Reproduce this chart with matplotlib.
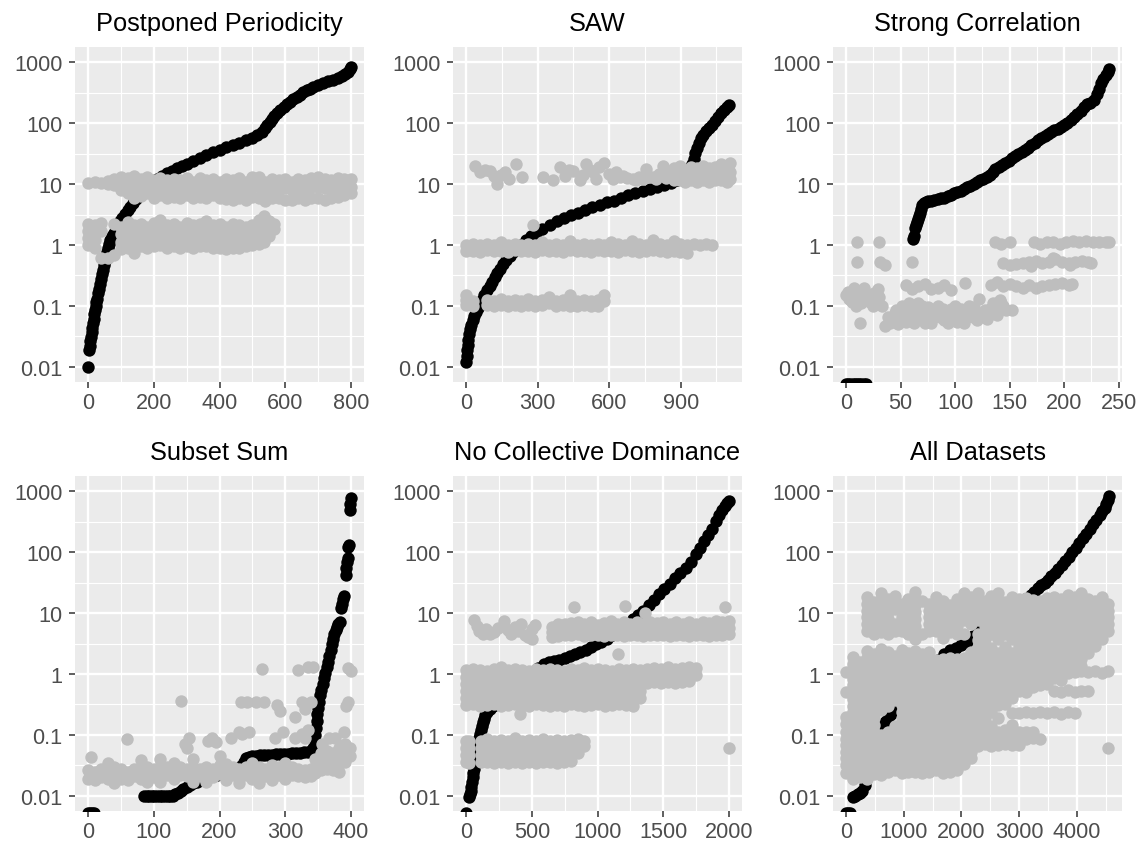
import matplotlib
matplotlib.use("Agg")
import matplotlib.pyplot as plt
from matplotlib.ticker import FixedLocator, FixedFormatter, NullFormatter

plt.rcParams["font.family"] = ["Liberation Sans", "DejaVu Sans"]

# ---------------- Postponed Periodicity ----------------
pp_black_x = [0, 3, 5, 7, 9, 11, 13, 15, 17, 19, 21, 23, 25, 27, 30, 33, 36, 39, 42, 45,
              48, 51, 54, 57, 60, 64, 68, 73, 78, 84, 90, 97, 104, 112, 120, 128, 137, 146, 156, 167,
              180, 195, 210, 225, 240, 255, 270, 285, 300, 320, 340, 360, 380, 400, 420, 440, 460, 480, 500, 515,
              528, 538, 546, 553, 560, 567, 575, 585, 595, 605, 615, 625, 635, 645, 655, 665, 675, 685, 700, 715,
              730, 745, 760, 772, 782, 790, 796, 800]
pp_black_y = [0.01, 0.019, 0.022, 0.026, 0.031, 0.037, 0.044, 0.052, 0.062, 0.073,
              0.086, 0.1, 0.115, 0.13, 0.16, 0.19, 0.23, 0.28, 0.33, 0.39,
              0.46, 0.55, 0.65, 0.77, 0.9, 1.05, 1.2, 1.4, 1.6, 1.85,
              2.1, 2.45, 2.8, 3.2, 3.7, 4.2, 4.8, 5.6, 6.4, 7.4,
              8.8, 10.5, 12, 13.5, 15, 16.5, 18, 19.5, 21, 24,
              27, 30, 33, 36, 40, 44, 48, 53, 58, 64,
              72, 82, 93, 105, 118, 132, 148, 165, 185, 205,
              225, 245, 270, 295, 320, 345, 370, 395, 425, 455,
              485, 515, 550, 590, 640, 700, 760, 830]
pp_grey_hi = [(0, [10.5]), (20, [11]), (40, [10.5]), (60, [11.2, 10]), (80, [12, 9.8]),
              (100, [13, 10.5, 8]), (120, [12.5, 9.5, 7]), (140, [13.5, 10, 7, 5.8]), (160, [12, 9, 6.3]),
              (180, [13, 9.5, 7]), (200, [11.5, 8.5, 6]), (220, [12.5, 9, 6.5]), (240, [11.5, 8.3, 6]),
              (260, [12, 8.5, 6.2]), (280, [11.5, 8.5, 6]), (300, [12.5, 9, 6.5]), (320, [11, 8, 6]),
              (340, [12.5, 9, 6.2]), (360, [11.5, 8.5, 6]), (380, [12, 9, 6.5]), (400, [11, 8, 5.8]),
              (420, [12, 8.5, 5.6]), (440, [11.5, 8, 5.5]), (460, [12.5, 9, 6]), (480, [11, 8, 5.5]),
              (500, [13, 9, 6.2]), (520, [13, 9, 6]), (540, [11, 7.8, 5.2]), (560, [12, 8.5, 6]),
              (580, [11.5, 8, 5.8]), (600, [12, 8.5, 5.5]), (620, [11, 8, 5.5]), (640, [12, 8.5, 5.8]),
              (660, [11.5, 8, 5.5]), (680, [12.5, 9, 6]), (700, [13, 9, 6]), (720, [12, 8.5, 5.5]),
              (740, [11.5, 8, 5.8]), (760, [12.5, 9, 6.2]), (780, [12, 8.5, 6.5]), (800, [12, 9, 7])]
pp_grey_lo = [(0, [2.2, 1.7, 1.3, 1.0]), (20, [2.1, 1.6, 1.2, 0.9]), (40, [2.3, 1.7, 0.6]),
              (60, [0.62]), (80, [2.2, 0.68]), (100, [2.0, 1.5, 1.1, 0.85]),
              (120, [2.4, 1.7, 1.25, 0.9]), (140, [2.1, 1.5, 1.1, 0.75]), (160, [2.2, 1.6, 1.2, 0.95]),
              (180, [2.0, 1.5, 1.1, 0.9]), (200, [2.3, 1.7, 1.25, 0.95]), (220, [2.6, 1.8, 1.3, 1.0]),
              (240, [2.1, 1.5, 1.1, 0.9]), (260, [2.2, 1.6, 1.2, 0.95]), (280, [2.0, 1.5, 1.1, 0.9]),
              (300, [2.3, 1.6, 1.2, 0.95]), (320, [2.1, 1.5, 1.1, 0.9]), (340, [2.2, 1.6, 1.2, 0.95]),
              (360, [2.5, 1.7, 1.25, 0.95]), (380, [2.1, 1.5, 1.1, 0.9]), (400, [2.2, 1.6, 1.2, 0.9]),
              (420, [2.0, 1.5, 1.1, 0.85]), (440, [2.2, 1.6, 1.2, 0.9]), (460, [2.1, 1.5, 1.1, 0.9]),
              (480, [2.0, 1.5, 1.15, 0.95]), (500, [2.1, 1.6, 1.2, 1.0]), (520, [2.6, 1.9, 1.4, 1.05]),
              (535, [3.0, 2.2, 1.6, 1.1]), (550, [2.5, 1.8, 1.4]), (565, [2.2, 1.8])]

# ---------------- SAW ----------------
saw_black_x = [0, 2, 4, 6, 9, 12, 16, 21, 27, 34, 42, 50, 58, 67, 77, 88, 98, 108, 119, 130,
               142, 155, 168, 182, 197, 213, 230, 250, 272, 295, 320, 350, 380, 410, 440, 470, 500, 530, 560, 590,
               620, 650, 680, 710, 740, 770, 800, 830, 860, 885, 905, 920, 932, 940, 947, 954, 961, 968, 976, 985,
               995, 1006, 1018, 1030, 1043, 1056, 1069, 1082, 1095, 1102]
saw_black_y = [0.012, 0.015, 0.019, 0.023, 0.028, 0.034, 0.041, 0.049, 0.058, 0.068,
               0.08, 0.092, 0.105, 0.125, 0.15, 0.18, 0.215, 0.25, 0.3, 0.35,
               0.41, 0.48, 0.56, 0.65, 0.76, 0.88, 1.0, 1.2, 1.4, 1.6,
               1.85, 2.15, 2.45, 2.75, 3.05, 3.4, 3.8, 4.2, 4.6, 5.0,
               5.3, 5.9, 6.5, 7.2, 7.8, 8.4, 9.0, 9.7, 10.5, 11.5,
               12.6, 14, 15.5, 17, 21, 26, 32, 39, 47, 56,
               65, 74, 83, 94, 108, 125, 145, 165, 185, 200]
saw_grey_pts_x = [38, 58, 80, 100, 115, 128, 145, 163, 180, 211, 235, 323, 364, 392, 413, 430, 448, 476, 490, 504,
                  520, 531, 545, 559, 580, 601, 615, 629, 645, 657, 675, 698, 712, 726, 740, 754, 768, 782, 796, 810,
                  824, 838, 852, 281, 955, 980, 1005, 1030]
saw_grey_pts_y = [20, 15.7, 17, 16.6, 13.5, 10, 14, 15.7, 12, 21, 13, 13, 11.5, 19, 13.6, 17, 16.6, 11.5, 14, 21,
                  17, 15.7, 12, 19, 22, 14.5, 12, 15.7, 13, 13.6, 12.5, 12.3, 11.5, 13, 12, 17.4, 13, 13, 12, 14.5,
                  20, 12.5, 16, 2.1, 1.05, 1.0, 1.05, 1.0]
saw_grey_hi = [(870, [18, 14, 11.5]), (895, [20, 15, 11.5]), (920, [17, 13.5, 11]), (945, [19, 14.5, 11.5]),
               (970, [18, 14, 11]), (995, [20, 15, 11.5]), (1020, [18, 14, 11]), (1045, [19, 14.5, 11.5]),
               (1070, [21, 15, 11.5]), (1095, [19, 14, 11]), (1105, [22, 16, 12])]
saw_grey_mid = [(0, [1.0, 0.8]), (29, [1.05, 0.8]), (58, [1.0, 0.78]), (87, [1.05, 0.82]), (116, [1.0, 0.8]),
                (145, [1.1, 0.8]), (174, [1.0, 0.78]), (203, [1.05, 0.82]), (232, [1.0, 0.8]), (261, [1.05, 0.8]),
                (290, [1.0, 0.78]), (319, [1.1, 0.82]), (348, [1.0, 0.8]), (377, [1.05, 0.8]), (406, [1.0, 0.78]),
                (435, [1.15, 0.82]), (464, [1.0, 0.8]), (493, [1.05, 0.8]), (522, [1.0, 0.78]), (551, [1.05, 0.82]),
                (580, [1.0, 0.8]), (609, [1.1, 0.8]), (638, [1.05, 0.78]), (667, [1.0, 0.82]), (696, [1.15, 0.8]),
                (725, [1.05, 0.78]), (754, [1.0, 0.8]), (783, [1.2, 0.82]), (812, [1.05, 0.8]), (841, [1.0, 0.78]),
                (870, [1.15, 0.8]), (899, [1.05, 0.78]), (928, [1.0, 0.75])]
saw_grey_lo = [(0, [0.15, 0.125, 0.105]), (29, [0.12, 0.1]), (87, [0.125, 0.105]), (116, [0.12, 0.1]),
               (145, [0.13, 0.105]), (174, [0.12, 0.1]), (203, [0.125, 0.105]), (232, [0.12, 0.1]),
               (261, [0.13, 0.105]), (290, [0.12, 0.1]), (319, [0.125, 0.105]), (348, [0.14, 0.11]),
               (377, [0.12, 0.1]), (406, [0.125, 0.105]), (435, [0.15, 0.12, 0.1]), (464, [0.12, 0.1]),
               (493, [0.125, 0.105]), (522, [0.12, 0.1]), (551, [0.125, 0.1]), (580, [0.15, 0.12])]

# ---------------- Strong Correlation ----------------
sc_black_x = [0, 2, 4, 6, 8, 10, 12, 14, 16, 18,
              61, 62, 63, 64, 65, 66, 67, 68, 69, 70,
              71, 73, 75, 78, 81, 84, 87, 90, 93, 96, 99, 102, 105, 108, 111, 114, 117, 120, 123, 126,
              129, 132, 135, 137, 140, 143, 146, 149, 152, 155, 158, 161, 164, 167, 170, 173, 176, 179, 182, 185,
              188, 191, 194, 197, 200, 203, 206, 209, 212, 215, 218, 221, 224, 227, 230, 232, 234, 236, 238, 240, 241]
sc_black_y = [0.0052, 0.0052, 0.0052, 0.0052, 0.0052, 0.0052, 0.0052, 0.0052, 0.0052, 0.0052,
              1.25, 1.4, 1.9, 2.1, 2.4, 2.7, 3.0, 3.4, 3.9, 4.5,
              4.8, 5.0, 5.2, 5.3, 5.5, 5.6, 5.8, 6.0, 6.3, 6.6, 7.0, 7.4, 7.8, 8.3, 8.8, 9.4, 10, 10.7, 11.5, 12.3,
              13.2, 14, 15.5, 17.5, 19, 20.5, 22, 24, 26.5, 29, 31, 33, 36, 39, 43, 48, 53, 57, 61, 66,
              71, 76, 81, 87, 94, 102, 112, 125, 140, 160, 185, 205, 215, 240, 300, 360, 450, 540, 620, 700, 780]
sc_grey_x = [10, 30, 10, 31, 36, 60,
             0, 3, 7, 5, 12, 16, 22, 28, 29, 13, 18, 25, 30, 2, 9, 14, 20, 24, 26, 9, 33,
             40, 46, 51, 58, 60, 69, 72, 81, 87, 93, 99, 105, 111, 117, 122, 125, 129, 135, 141, 147,
             36, 43, 55, 62, 66, 75, 78, 84, 90, 96, 102, 108, 114, 120, 132, 138, 144, 152, 140,
             38, 45, 48, 53, 57, 64, 68, 74, 80, 86, 92, 98, 104, 110, 116, 121, 127, 131, 136, 142,
             60, 50, 70, 89, 100, 113,
             55, 60, 66, 72, 78, 84, 90, 96, 109,
             133, 138, 144, 150, 156, 162, 168, 174, 180, 186, 192, 198, 204, 207,
             144, 150, 156, 162, 168, 174, 180, 186, 192, 198, 204, 210, 216, 222, 225, 170, 190, 205,
             137, 142, 150, 172, 178, 184, 190, 196, 202, 208, 214, 220, 226, 232, 238, 241]
sc_grey_y = [1.1, 1.1, 0.52, 0.52, 0.47, 0.52,
             0.15, 0.13, 0.2, 0.115, 0.13, 0.2, 0.115, 0.11, 0.19, 0.052, 0.13, 0.1, 0.14, 0.17, 0.16, 0.11, 0.14,
             0.13, 0.16, 0.1, 0.1,
             0.052, 0.086, 0.1, 0.11, 0.07, 0.086, 0.052, 0.065, 0.08, 0.052, 0.075, 0.09, 0.065, 0.095, 0.13,
             0.075, 0.062, 0.11, 0.125, 0.086,
             0.046, 0.058, 0.055, 0.052, 0.11, 0.097, 0.052, 0.1, 0.058, 0.09, 0.055, 0.052, 0.08, 0.058, 0.09,
             0.07, 0.1, 0.085, 0.088,
             0.065, 0.075, 0.05, 0.065, 0.085, 0.065, 0.06, 0.075, 0.08, 0.065, 0.07, 0.06, 0.07, 0.08, 0.065,
             0.072, 0.085, 0.07, 0.095, 0.11,
             0.09, 0.085, 0.1, 0.09, 0.1, 0.1,
             0.22, 0.19, 0.21, 0.23, 0.19, 0.2, 0.22, 0.18, 0.24,
             0.22, 0.25, 0.21, 0.23, 0.21, 0.2, 0.22, 0.2, 0.21, 0.22, 0.23, 0.24, 0.22, 0.23,
             0.5, 0.47, 0.48, 0.5, 0.52, 0.55, 0.5, 0.53, 0.58, 0.52, 0.5, 0.52, 0.55, 0.53, 0.5, 0.45, 0.6, 0.46,
             1.1, 1.05, 1.1, 1.1, 1.05, 1.1, 1.1, 1.05, 1.1, 1.15, 1.1, 1.15, 1.1, 1.1, 1.12, 1.1]

# ---------------- Subset Sum ----------------
ss_black_x = [0, 3, 6, 9, 85, 89, 93, 97, 101, 105, 109, 113, 117, 121, 125, 129,
              133, 137, 141, 145, 150, 155, 160, 166, 172, 178, 184, 190, 196, 202, 208, 214, 220, 226, 232, 237,
              241, 245, 250, 256, 262, 268, 274, 280, 286, 292, 298, 304, 310, 316, 322, 328, 334, 340,
              343, 345, 346, 347, 348, 349, 350, 351, 353, 355, 357, 359, 361, 363, 365, 367, 369, 371, 373, 375,
              377, 379, 381, 383, 385, 386, 388, 390, 392, 393, 394, 395, 396, 397, 398, 399, 400]
ss_black_y = [0.0052, 0.0052, 0.0052, 0.0052, 0.01, 0.01, 0.01, 0.01, 0.01, 0.01, 0.01, 0.01, 0.01, 0.01, 0.01, 0.01,
              0.0105, 0.011, 0.012, 0.013, 0.014, 0.015, 0.016, 0.017, 0.018, 0.019, 0.02, 0.021, 0.022, 0.023,
              0.024, 0.025, 0.026, 0.028, 0.031, 0.036,
              0.041, 0.044, 0.045, 0.045, 0.046, 0.046, 0.047, 0.047, 0.048, 0.048, 0.049, 0.049, 0.05, 0.05,
              0.051, 0.052, 0.053, 0.055,
              0.06, 0.08, 0.1, 0.13, 0.17, 0.22, 0.28, 0.35, 0.45, 0.55, 0.68, 0.85, 1.05, 1.3, 1.6, 2.0, 2.5,
              3.1, 3.8, 4.5,
              5.2, 5.9, 6.5, 7.2, 12, 14, 17, 19, 42, 55, 70, 80, 120, 130, 500, 620, 760]
ss_grey_band = [(0, [0.026, 0.019]), (10, [0.025, 0.018]), (20, [0.027, 0.02]), (30, [0.035, 0.025, 0.019]),
                (40, [0.03, 0.022, 0.016]), (50, [0.027, 0.019]), (60, [0.025, 0.018]), (70, [0.028, 0.021]),
                (80, [0.038, 0.026, 0.019]), (90, [0.03, 0.022, 0.017]), (100, [0.027, 0.02]),
                (110, [0.04, 0.03, 0.022, 0.017]), (120, [0.03, 0.022]), (130, [0.034, 0.025, 0.019]),
                (140, [0.03, 0.022]), (150, [0.028, 0.021]), (160, [0.04, 0.03, 0.022, 0.017]),
                (170, [0.028, 0.021]), (180, [0.03, 0.022, 0.017]), (190, [0.027, 0.02]),
                (200, [0.045, 0.032, 0.023]), (210, [0.033, 0.024, 0.018]), (220, [0.03, 0.022]),
                (230, [0.028, 0.021, 0.016]), (240, [0.03, 0.022]), (250, [0.035, 0.026, 0.019]),
                (260, [0.03, 0.022, 0.016]), (270, [0.028, 0.021]), (280, [0.032, 0.024, 0.018]),
                (290, [0.03, 0.022]), (300, [0.034, 0.025, 0.019]), (310, [0.03, 0.022]),
                (320, [0.028, 0.021]), (330, [0.026, 0.02]), (340, [0.028, 0.021])]
ss_grey_right = [(346, [0.04, 0.03, 0.024]), (355, [0.05, 0.036, 0.026]), (364, [0.055, 0.04, 0.028]),
                 (373, [0.05, 0.036, 0.026]), (382, [0.06, 0.045, 0.033, 0.025]), (391, [0.07, 0.05, 0.036]),
                 (398, [0.06, 0.045])]
ss_grey_x = [5, 59, 141, 147, 151, 153, 183, 189, 194, 217, 230, 235, 245, 232, 242, 255, 268, 265, 285, 287,
             292, 296, 315, 315, 320, 325, 325, 330, 330, 335, 335, 340, 343, 356, 366, 376, 389, 393, 396, 396, 400]
ss_grey_y = [0.043, 0.085, 0.36, 0.07, 0.06, 0.088, 0.08, 0.088, 0.075, 0.088, 0.11, 0.105, 0.11, 0.35, 0.35,
             0.35, 0.35, 1.2, 0.088, 0.31, 0.25, 0.11, 0.09, 0.2, 1.15, 0.105, 0.35, 0.088, 0.27, 0.12, 1.3,
             0.35, 1.3, 0.07, 0.088, 0.09, 0.11, 0.3, 0.35, 1.25, 1.1]

# ---------------- No Collective Dominance ----------------
ncd_black_x = [0, 25, 30, 35, 40, 45, 50, 55, 60, 65, 70, 76, 82, 88, 94, 100, 106, 112, 119, 127,
               136, 147, 160, 180, 205, 235, 270, 310, 350, 390, 430, 470, 510, 550, 590, 630, 670, 710, 750, 790,
               830, 870, 910, 950, 990, 1030, 1070, 1110, 1150, 1190, 1230, 1270, 1310, 1350, 1390, 1430, 1470,
               1510, 1550, 1590, 1630, 1670, 1710, 1750, 1780, 1810, 1840, 1870, 1900, 1925, 1950, 1970, 1985, 2000]
ncd_black_y = [0.0052, 0.0095, 0.0105, 0.012, 0.014, 0.017, 0.02, 0.024, 0.028, 0.033,
               0.039, 0.046, 0.055, 0.065, 0.077, 0.09, 0.104, 0.12, 0.14, 0.16,
               0.185, 0.21, 0.24, 0.265, 0.3, 0.33, 0.36, 0.39, 0.45, 0.55,
               0.67, 0.82, 1.0, 1.25, 1.45, 1.55, 1.62, 1.72, 1.85, 1.98,
               2.12, 2.3, 2.5, 2.75, 3.05, 3.4, 3.8, 4.3, 4.9, 5.7,
               6.7, 7.9, 9.3, 11, 13.5, 16.5, 20.5, 25, 30, 37,
               45, 55, 68, 92, 118, 150, 190, 240, 320, 400,
               500, 580, 640, 700]
ncd_grey_x = [60, 80, 100, 125, 150, 180, 210, 245, 290, 315, 340, 370, 395, 420, 445, 470, 500, 525, 500,
              823, 1208, 1972, 1364, 1157, 410, 2000]
ncd_grey_y = [7.8, 6.2, 5.0, 4.5, 5.5, 4.6, 4.9, 5.6, 7.4, 5.2, 4.5, 6.0, 5.0, 6.6, 4.4, 4.0, 5.4, 6.4, 3.7,
              12.5, 13, 12.7, 10, 2.1, 0.22, 0.06]
ncd_grey_hi = [(650, [6.0, 4.8, 4.0]), (700, [6.5, 5.2, 4.2]), (750, [6.5, 5.3, 4.4]), (800, [6.8, 5.4, 4.3]),
               (850, [7.2, 5.6, 4.5]), (900, [6.5, 5.2, 4.2]), (950, [7.0, 5.5, 4.3]), (1000, [6.4, 5.2, 4.3]),
               (1050, [6.8, 5.4, 4.2]), (1100, [7.3, 5.6, 4.4]), (1150, [6.6, 5.3, 4.3]), (1200, [7.0, 5.5, 4.2]),
               (1250, [6.5, 5.2, 4.3]), (1300, [7.1, 5.6, 4.4]), (1350, [6.6, 5.3, 4.2]), (1400, [7.2, 5.5, 4.3]),
               (1450, [6.8, 5.4, 4.4]), (1500, [7.0, 5.6, 4.3]), (1550, [6.5, 5.2, 4.2]), (1600, [7.2, 5.5, 4.4]),
               (1650, [6.7, 5.3, 4.3]), (1700, [7.0, 5.6, 4.2]), (1750, [6.6, 5.3, 4.4]), (1800, [7.1, 5.5, 4.3]),
               (1850, [6.8, 5.4, 4.2]), (1900, [7.3, 5.6, 4.4]), (1950, [7.0, 5.5, 4.3]), (2000, [7.3, 5.7, 4.5])]
ncd_grey_mid = [(0, [1.15, 0.88, 0.68, 0.52, 0.4, 0.31]), (53, [1.2, 0.9, 0.7, 0.53, 0.41, 0.32]),
                (106, [1.15, 0.88, 0.68, 0.52, 0.4, 0.3]), (159, [1.1, 0.86, 0.66, 0.5, 0.39, 0.31]),
                (212, [1.2, 0.9, 0.7, 0.53, 0.41, 0.32]), (265, [1.3, 0.95, 0.72, 0.54, 0.4, 0.3]),
                (318, [1.15, 0.88, 0.68, 0.52, 0.4, 0.31]), (371, [1.2, 0.9, 0.7, 0.53, 0.41, 0.32]),
                (424, [1.15, 0.88, 0.68, 0.52, 0.4, 0.31]), (477, [1.1, 0.86, 0.66, 0.5, 0.39, 0.3]),
                (530, [1.2, 0.9, 0.7, 0.53, 0.41, 0.32]), (583, [1.15, 0.88, 0.68, 0.52, 0.4, 0.31]),
                (636, [1.2, 0.9, 0.7, 0.53, 0.41, 0.3]), (689, [1.15, 0.88, 0.68, 0.52, 0.4, 0.31]),
                (742, [1.1, 0.86, 0.66, 0.5, 0.39, 0.3]), (795, [1.2, 0.9, 0.7, 0.53, 0.41, 0.32]),
                (848, [1.15, 0.88, 0.68, 0.52, 0.4, 0.31]), (901, [1.25, 0.92, 0.7, 0.53, 0.41, 0.3]),
                (954, [1.15, 0.88, 0.68, 0.52, 0.4, 0.31]), (1007, [1.2, 0.9, 0.7, 0.53, 0.41, 0.32]),
                (1060, [1.15, 0.88, 0.68, 0.52, 0.4, 0.3]), (1113, [1.1, 0.86, 0.66, 0.5, 0.39, 0.31]),
                (1166, [1.2, 0.9, 0.7, 0.53, 0.41, 0.32]), (1219, [1.15, 0.88, 0.68, 0.52, 0.4, 0.31]),
                (1272, [1.2, 0.9, 0.7, 0.53, 0.41, 0.3]), (1325, [1.15, 0.88, 0.68, 0.52, 0.4]),
                (1378, [1.2, 0.92, 0.72]), (1431, [1.25, 0.95, 0.74]), (1484, [1.2, 0.92, 0.72]),
                (1537, [1.3, 0.96, 0.75]), (1590, [1.2, 0.92, 0.72]), (1643, [1.25, 0.95, 0.74]),
                (1696, [1.3, 0.98, 0.76]), (1749, [1.25, 0.95])]
ncd_grey_lo = [(0, [0.08, 0.062, 0.047, 0.036]), (20, [0.078, 0.06, 0.046, 0.035]),
               (112, [0.08, 0.062, 0.047, 0.036]), (159, [0.085, 0.064, 0.048, 0.036]),
               (212, [0.08, 0.062, 0.047, 0.035]), (265, [0.082, 0.063, 0.048, 0.036]),
               (318, [0.08, 0.062, 0.047, 0.035]), (371, [0.09, 0.066, 0.049, 0.036]),
               (424, [0.08, 0.062, 0.047, 0.035]), (477, [0.082, 0.063, 0.048, 0.036]),
               (530, [0.08, 0.062, 0.047, 0.035]), (583, [0.085, 0.064, 0.048, 0.036]),
               (636, [0.08, 0.062, 0.047, 0.036]), (689, [0.082, 0.063, 0.048, 0.035]),
               (742, [0.08, 0.062, 0.047, 0.036]), (795, [0.082, 0.063, 0.048, 0.037]),
               (848, [0.085, 0.065, 0.05]), (900, [0.08, 0.065])]

# ---------------- All Datasets ----------------
all_black_x = [0, 30, 60, 120, 160, 200, 240, 280, 330, 380, 430, 480, 530, 580, 630, 680, 730, 780, 830, 900,
               1000, 1100, 1200, 1300, 1400, 1500, 1600, 1700, 1800, 1900, 2000, 2100, 2200, 2300, 2400, 2500,
               2600, 2700, 2800, 2900, 3000, 3100, 3200, 3260, 3320, 3380, 3440, 3500, 3560, 3620, 3680, 3740,
               3800, 3860, 3920, 3980, 4040, 4100, 4160, 4220, 4280, 4340, 4400, 4440, 4480, 4510, 4540, 4555]
all_black_y = [0.0052, 0.0052, 0.0052, 0.0095, 0.01, 0.0105, 0.011, 0.012, 0.015, 0.025, 0.04, 0.06, 0.085,
               0.11, 0.14, 0.165, 0.19, 0.22, 0.25, 0.3,
               0.38, 0.48, 0.6, 0.78, 1.0, 1.3, 1.7, 2.15, 2.45, 2.7, 2.95, 3.4, 4.2, 5.5, 6.5, 7.5,
               8.5, 9.6, 11, 12.5, 14.5, 17, 20, 22.5, 25.5, 28.5, 31.5, 35, 40, 46, 53, 61,
               71, 83, 99, 118, 140, 170, 200, 240, 290, 340, 410, 470, 540, 620, 720, 820]
all_grey = [
    (0, [1.07, 0.5, 0.2, 0.15, 0.11, 0.087, 0.068, 0.053, 0.041, 0.032, 0.024]),
    (120, [1.9, 1.45, 1.1, 0.83, 0.65, 0.5, 0.39, 0.3, 0.24, 0.19, 0.145, 0.11, 0.087, 0.068, 0.053, 0.041, 0.032, 0.025, 0.019]),
    (240, [1.6, 1.3, 1.05, 0.83, 0.65, 0.5, 0.39, 0.3, 0.24, 0.19, 0.145, 0.11, 0.087, 0.068, 0.053, 0.041, 0.032, 0.025, 0.02]),
    (360, [18, 14, 11, 8.5, 6.5, 5.0, 2.4, 1.85, 1.4, 1.07, 0.83, 0.65, 0.5, 0.39, 0.3, 0.24, 0.19, 0.145, 0.11, 0.087, 0.068, 0.053, 0.041, 0.032, 0.025, 0.019]),
    (480, [15, 12, 9.5, 7.5, 5.8, 4.5, 2.1, 1.65, 1.3, 1.0, 0.8, 0.63, 0.5, 0.39, 0.3, 0.24, 0.19, 0.145, 0.11, 0.087, 0.068, 0.053, 0.041, 0.032, 0.023]),
    (600, [21, 16.5, 13, 10, 7.8, 6.1, 4.8, 2.6, 2.0, 1.55, 1.2, 0.93, 0.72, 0.56, 0.43, 0.33, 0.26, 0.1, 0.08, 0.062, 0.048, 0.037, 0.029, 0.022]),
    (720, [17, 13.5, 10.5, 8, 6.2, 4.6, 2.3, 1.8, 1.4, 1.07, 0.83, 0.65, 0.5, 0.39, 0.3, 0.11, 0.087, 0.068, 0.053, 0.041, 0.032, 0.025]),
    (840, [19, 15, 11.5, 6.5, 5.0, 2.0, 1.6, 1.25, 1.0, 0.78, 0.6, 0.47, 0.37, 0.14, 0.11, 0.087, 0.068, 0.053, 0.041, 0.032, 0.026]),
    (960, [14, 11, 8.5, 6.5, 5.0, 2.5, 1.9, 1.45, 1.1, 0.85, 0.66, 0.51, 0.4, 0.31, 0.24, 0.19, 0.145, 0.11, 0.087, 0.068, 0.053, 0.041, 0.032, 0.024]),
    (1080, [17, 13, 10, 7.8, 6.1, 4.6, 2.2, 1.7, 1.35, 1.05, 0.82, 0.64, 0.5, 0.39, 0.3, 0.24, 0.19, 0.145, 0.11, 0.087, 0.068, 0.053, 0.041, 0.032, 0.025]),
    (1200, [22, 17, 13.5, 10.5, 8, 6.2, 4.8, 3.7, 2.4, 1.85, 1.4, 1.07, 0.83, 0.65, 0.5, 0.39, 0.3, 0.24, 0.19, 0.145, 0.11, 0.087, 0.068, 0.053, 0.041, 0.032, 0.025]),
    (1320, [16, 4.6, 2.1, 1.65, 1.3, 1.0, 0.8, 0.63, 0.5, 0.39, 0.3, 0.24, 0.19, 0.145, 0.11, 0.087, 0.068, 0.053, 0.041, 0.032, 0.024]),
    (1440, [14, 11, 8.5, 6.5, 5.0, 2.3, 1.8, 1.4, 1.07, 0.83, 0.65, 0.5, 0.39, 0.3, 0.24, 0.19, 0.145, 0.11, 0.087, 0.068, 0.053, 0.041, 0.032, 0.025]),
    (1560, [18, 14, 11, 8.5, 6.5, 5.0, 1.7, 1.35, 1.05, 0.82, 0.64, 0.5, 0.39, 0.3, 0.24, 0.19, 0.145, 0.11, 0.087, 0.068, 0.053, 0.041, 0.032, 0.026]),
    (1680, [16, 12.5, 10, 7.8, 6.1, 4.8, 3.9, 1.75, 1.37, 1.07, 0.83, 0.65, 0.5, 0.39, 0.3, 0.24, 0.19, 0.145, 0.11, 0.087, 0.068, 0.053, 0.041, 0.032, 0.024]),
    (1800, [13.5, 10.5, 8, 6.2, 4.8, 1.8, 1.4, 1.07, 0.83, 0.65, 0.5, 0.39, 0.3, 0.24, 0.19, 0.145, 0.11, 0.087, 0.068, 0.053, 0.041, 0.032, 0.025]),
    (1920, [17, 13, 10, 7.8, 6.1, 4.6, 1.75, 1.37, 1.07, 0.83, 0.65, 0.5, 0.39, 0.3, 0.24, 0.19, 0.145, 0.11, 0.087, 0.068, 0.053, 0.041, 0.032, 0.026]),
    (2040, [21, 16.5, 13, 10, 7.8, 4.6, 1.8, 1.4, 1.07, 0.83, 0.65, 0.5, 0.39, 0.3, 0.24, 0.19, 0.145, 0.11, 0.087, 0.068, 0.053, 0.041, 0.033]),
    (2160, [18, 14, 11, 8.5, 6.6, 2.3, 1.8, 1.4, 1.07, 0.83, 0.65, 0.5, 0.39, 0.3, 0.24, 0.19, 0.145, 0.11, 0.087, 0.068, 0.053, 0.042]),
    (2280, [21, 16.5, 13, 10, 7.8, 4.6, 3.6, 2.8, 2.2, 1.75, 1.37, 1.07, 0.83, 0.65, 0.5, 0.39, 0.3, 0.24, 0.19, 0.145, 0.11, 0.087, 0.066]),
    (2400, [16, 12.5, 10, 7.8, 6.1, 4.8, 3.7, 2.9, 2.25, 1.75, 1.37, 1.07, 0.83, 0.65, 0.5, 0.39, 0.3, 0.24, 0.19, 0.145, 0.11, 0.087, 0.07]),
    (2520, [19, 15, 12, 9.5, 7.4, 5.8, 4.5, 2.7, 2.1, 1.65, 1.3, 1.0, 0.8, 0.63, 0.5, 0.39, 0.3, 0.24, 0.14, 0.11, 0.087, 0.065]),
    (2640, [21, 16.5, 13, 10, 7.8, 6.1, 4.8, 3.7, 2.25, 1.75, 1.37, 1.07, 0.83, 0.65, 0.5, 0.39, 0.31, 0.19, 0.11, 0.087, 0.068]),
    (2760, [15, 12, 9.5, 7.4, 5.8, 4.5, 2.8, 2.2, 1.75, 1.37, 1.07, 0.83, 0.65, 0.5, 0.39, 0.32, 0.12, 0.095, 0.072]),
    (2880, [18, 14, 11, 8.5, 6.5, 5.0, 3.8, 2.25, 1.75, 1.37, 1.07, 0.83, 0.65, 0.5, 0.4, 0.23, 0.145, 0.11, 0.087, 0.068]),
    (3000, [17, 13.5, 10.5, 8, 6.2, 4.8, 3.7, 2.9, 2.25, 1.75, 1.37, 1.07, 0.83, 0.65, 0.52, 0.23, 0.11, 0.087, 0.068]),
    (3120, [17.5, 13.5, 10.5, 8, 6.2, 4.8, 3.7, 2.9, 2.25, 1.75, 1.37, 1.07, 0.83, 0.65, 0.5, 0.24, 0.11, 0.085]),
    (3240, [16.5, 13, 10, 7.8, 6.1, 4.8, 3.7, 2.9, 2.25, 1.75, 1.37, 1.07, 0.83, 0.62, 0.23, 0.11, 0.09]),
    (3360, [16, 12.5, 10, 7.8, 6.1, 4.8, 3.7, 2.9, 2.25, 1.75, 1.37, 1.07, 0.83, 0.65, 0.24, 0.085]),
    (3480, [17.5, 13.5, 10.5, 8, 6.2, 4.8, 3.7, 2.9, 2.25, 1.75, 1.37, 1.07, 0.83, 0.68, 0.23]),
    (3600, [18, 14, 11, 8.5, 6.5, 5.0, 3.8, 2.9, 2.25, 1.75, 1.37, 1.07, 0.85, 0.52, 0.24]),
    (3720, [17, 13.5, 10.5, 8, 6.2, 4.8, 3.7, 2.9, 2.25, 1.75, 1.37, 1.07, 0.8, 0.5, 0.22]),
    (3840, [20, 15.5, 12, 9.5, 7.4, 5.8, 4.5, 3.5, 2.7, 2.1, 1.65, 1.3, 1.05, 0.55, 0.24]),
    (3960, [18, 14, 11, 8.5, 6.5, 5.0, 3.8, 2.9, 2.25, 1.75, 1.37, 1.07, 0.5, 0.23]),
    (4080, [21, 16.5, 13, 10, 7.8, 6.1, 4.8, 3.7, 2.9, 2.25, 1.75, 1.37, 1.1, 0.52]),
    (4200, [17, 13.5, 10.5, 8, 6.2, 4.8, 3.7, 2.9, 2.2, 1.07, 0.53]),
    (4320, [16, 12.5, 10, 7.8, 6.1, 4.8, 3.7, 2.9, 1.1]),
    (4440, [18, 14, 11, 8.5, 6.5, 5.0, 3.8, 1.05]),
    (4540, [14, 11, 8.5, 6.5, 5.0, 1.1, 0.06]),
]

titles = ["Postponed Periodicity", "SAW", "Strong Correlation",
          "Subset Sum", "No Collective Dominance", "All Datasets"]
x_breaks = [[0, 200, 400, 600, 800], [0, 300, 600, 900], [0, 50, 100, 150, 200, 250],
            [0, 100, 200, 300, 400], [0, 500, 1000, 1500, 2000], [0, 1000, 2000, 3000, 4000]]
x_minor = [[100, 300, 500, 700], [150, 450, 750, 1050], [25, 75, 125, 175, 225],
           [50, 150, 250, 350], [250, 750, 1250, 1750], [500, 1500, 2500, 3500, 4500]]
y_breaks = [0.01, 0.1, 1, 10, 100, 1000]
y_labels = ["0.01", "0.1", "1", "10", "100", "1000"]


def expand_cols(cols):
    xs, ys = [], []
    for x, vals in cols:
        for v in vals:
            xs.append(x)
            ys.append(v)
    return xs, ys


def grey_of(col_groups, px=(), py=()):
    gx, gy = list(px), list(py)
    for cols in col_groups:
        a, b = expand_cols(cols)
        gx += a
        gy += b
    return gx, gy


blacks = [(pp_black_x, pp_black_y), (saw_black_x, saw_black_y), (sc_black_x, sc_black_y),
          (ss_black_x, ss_black_y), (ncd_black_x, ncd_black_y), (all_black_x, all_black_y)]
greys = [grey_of([pp_grey_hi, pp_grey_lo]),
         grey_of([saw_grey_hi, saw_grey_mid, saw_grey_lo], saw_grey_pts_x, saw_grey_pts_y),
         grey_of([], sc_grey_x, sc_grey_y),
         grey_of([ss_grey_band, ss_grey_right], ss_grey_x, ss_grey_y),
         grey_of([ncd_grey_hi, ncd_grey_mid, ncd_grey_lo], ncd_grey_x, ncd_grey_y),
         grey_of([all_grey])]

for bx, by in blacks:
    assert len(bx) == len(by), (len(bx), len(by))
for gx, gy in greys:
    assert len(gx) == len(gy), (len(gx), len(gy))

W, H = 1142, 845
fig = plt.figure(figsize=(W / 100, H / 100), dpi=100)
lefts = [75, 453, 833]
tops = [48, 477]
pw, ph = 289, 335

for i in range(6):
    r, c = divmod(i, 3)
    ax = fig.add_axes([lefts[c] / W, 1 - (tops[r] + ph) / H, pw / W, ph / H])
    ax.set_facecolor("#EBEBEB")
    for s in ax.spines.values():
        s.set_visible(False)
    ax.set_yscale("log")
    ax.set_ylim(10 ** -2.25, 10 ** 3.25)
    bx, by = blacks[i]
    gx, gy = greys[i]
    lo, hi = min(bx), max(bx)
    span = hi - lo
    ax.set_xlim(lo - 0.05 * span, hi + 0.05 * span)
    ax.xaxis.set_major_locator(FixedLocator(x_breaks[i]))
    ax.xaxis.set_major_formatter(FixedFormatter([str(v) for v in x_breaks[i]]))
    ax.xaxis.set_minor_locator(FixedLocator(x_minor[i]))
    ax.yaxis.set_major_locator(FixedLocator(y_breaks))
    ax.yaxis.set_major_formatter(FixedFormatter(y_labels))
    ax.yaxis.set_minor_locator(FixedLocator([10 ** -1.5, 10 ** -0.5, 10 ** 0.5, 10 ** 1.5, 10 ** 2.5]))
    ax.yaxis.set_minor_formatter(NullFormatter())
    ax.grid(which="major", color="white", linewidth=1.7)
    ax.grid(which="minor", color="white", linewidth=0.85)
    ax.set_axisbelow(True)
    ax.tick_params(which="major", length=4.3, width=1.1, color="#333333",
                   labelsize=15.6, labelcolor="#4D4D4D")
    ax.tick_params(axis="y", which="major", pad=4.6)
    ax.tick_params(axis="x", which="major", pad=3)
    ax.tick_params(which="minor", length=0)
    ax.scatter(bx, by, s=80, c="#000000", linewidths=0, zorder=2)
    ax.scatter(gx, gy, s=80, c="#BEBEBE", linewidths=0, zorder=3)
    ax.set_title(titles[i], fontsize=18.3, pad=12.0, color="#000000")

fig.savefig("out.png", dpi=100)
